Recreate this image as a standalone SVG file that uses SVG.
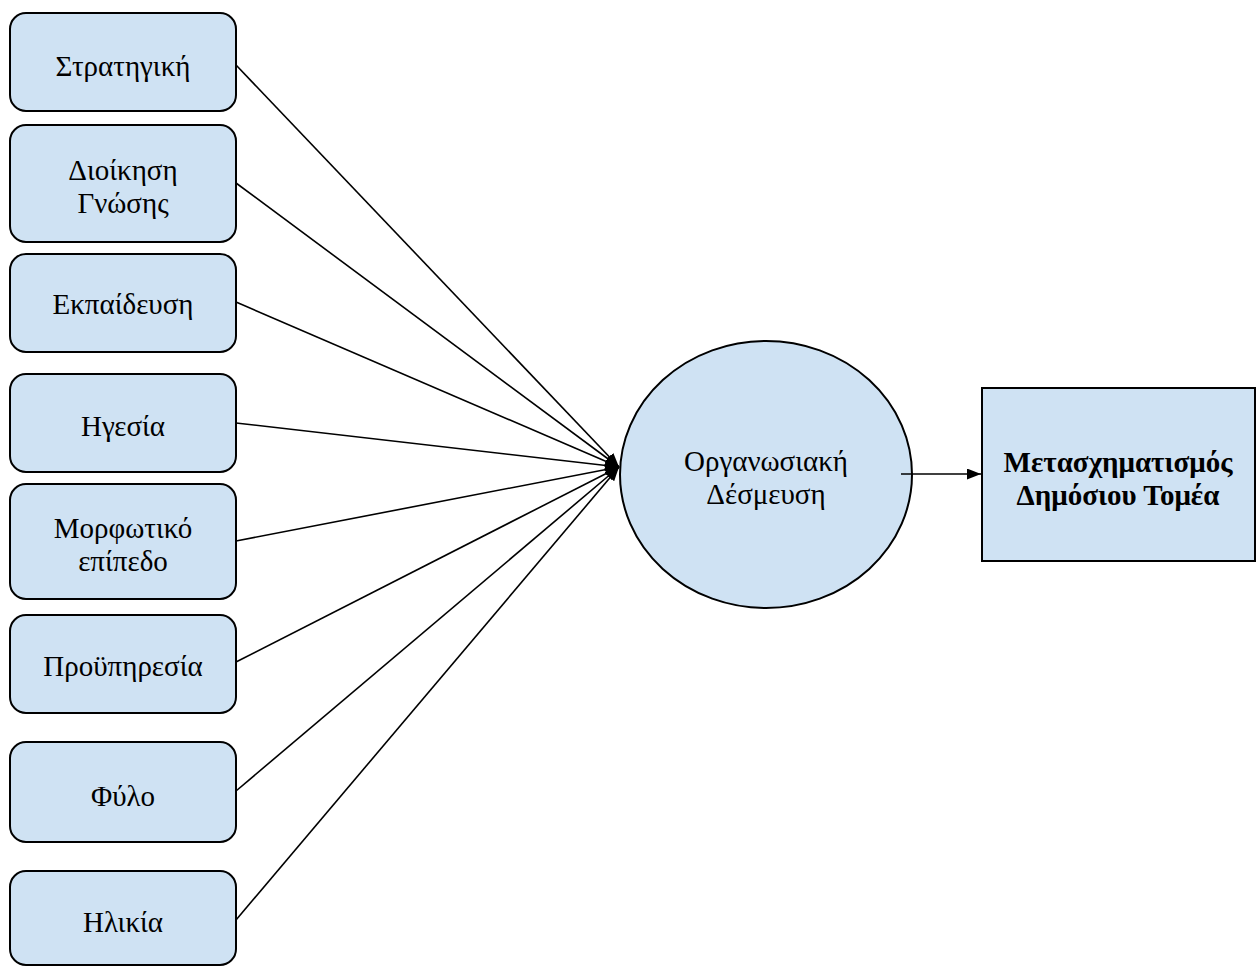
<svg xmlns="http://www.w3.org/2000/svg" width="1256" height="966" viewBox="0 0 1256 966">
<style>
.box{fill:#cfe2f3;stroke:#000;stroke-width:2}
.t{font-family:"Liberation Serif","DejaVu Serif",serif;font-size:29px;fill:#000;text-anchor:middle}
.b{font-weight:bold}
.c{stroke:#000;stroke-width:1.6;fill:none;marker-end:url(#ah)}
</style>
<defs>
<marker id="ah" viewBox="0 0 14 11" refX="14" refY="5.5" markerWidth="14" markerHeight="11" markerUnits="userSpaceOnUse" orient="auto">
<path d="M0,0 L14,5.5 L0,11 Z" fill="#000"/>
</marker>
</defs>
<rect width="1256" height="966" fill="#fff"/>
<g id="n1"><rect class="box" x="10" y="13" width="226" height="98" rx="16"/><text class="t" x="123" y="76">Στρατηγική</text></g>
<g id="n2"><rect class="box" x="10" y="125" width="226" height="117" rx="16"/><text class="t" x="123" y="180">Διοίκηση</text><text class="t" x="123" y="213">Γνώσης</text></g>
<g id="n3"><rect class="box" x="10" y="254" width="226" height="98" rx="16"/><text class="t" x="123" y="314">Εκπαίδευση</text></g>
<g id="n4"><rect class="box" x="10" y="374" width="226" height="98" rx="16"/><text class="t" x="123" y="436">Ηγεσία</text></g>
<g id="n5"><rect class="box" x="10" y="484" width="226" height="115" rx="16"/><text class="t" x="123" y="538">Μορφωτικό</text><text class="t" x="123" y="571">επίπεδο</text></g>
<g id="n6"><rect class="box" x="10" y="615" width="226" height="98" rx="16"/><text class="t" x="123" y="676">Προϋπηρεσία</text></g>
<g id="n7"><rect class="box" x="10" y="742" width="226" height="100" rx="16"/><text class="t" x="123" y="806">Φύλο</text></g>
<g id="n8"><rect class="box" x="10" y="871" width="226" height="94" rx="16"/><text class="t" x="123" y="932">Ηλικία</text></g>
<g id="center"><ellipse class="box" cx="766" cy="474.5" rx="146" ry="133.5"/><text class="t" x="766" y="471">Οργανωσιακή</text><text class="t" x="766" y="504">Δέσμευση</text></g>
<g id="out"><rect class="box" x="982" y="388" width="273" height="173"/><text class="t b" x="1118" y="472">Μετασχηματισμός</text><text class="t b" x="1118" y="505">Δημόσιου Τομέα</text></g>
<g id="connectors">
<line class="c" x1="236" y1="65" x2="619" y2="467"/>
<line class="c" x1="236" y1="183" x2="619" y2="467"/>
<line class="c" x1="236" y1="302" x2="619" y2="467"/>
<line class="c" x1="236" y1="423" x2="619" y2="467"/>
<line class="c" x1="236" y1="541" x2="619" y2="467"/>
<line class="c" x1="236" y1="662" x2="619" y2="467"/>
<line class="c" x1="236" y1="791" x2="619" y2="467"/>
<line class="c" x1="236" y1="920" x2="619" y2="467"/>
<line class="c" x1="901" y1="474" x2="981" y2="474"/>
</g>
</svg>
